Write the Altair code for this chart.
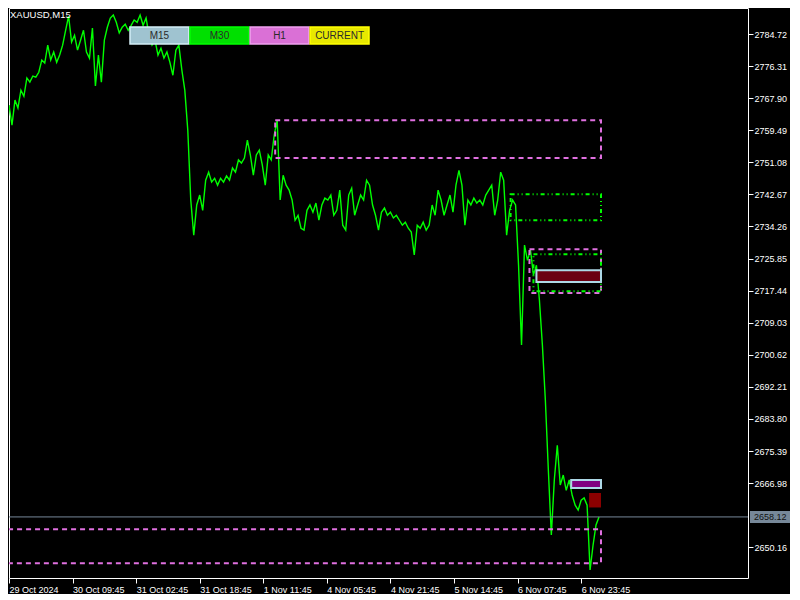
import altair as alt
import pandas as pd

# ---- data ----
closes = [
    2766.1, 2760.8, 2767.4, 2765.3, 2770.0, 2768.4, 2773.2, 2772.1, 2773.7, 2773.4,
    2774.7, 2777.9, 2777.1, 2781.8, 2777.9, 2780.0, 2777.3, 2779.2, 2781.8, 2785.7,
    2789.4, 2782.6, 2784.4, 2780.5, 2783.1, 2785.7, 2780.0, 2778.4, 2786.3, 2771.1,
    2779.2, 2772.1, 2783.1, 2786.5, 2788.9, 2789.7, 2787.8, 2785.0, 2786.5, 2787.3,
    2785.7, 2787.0, 2788.4, 2787.8, 2789.7, 2787.0, 2788.9, 2784.4, 2781.8, 2783.1,
    2779.2, 2781.0, 2778.4, 2780.0, 2777.3, 2773.9, 2780.5, 2781.8, 2775.3, 2770.0,
    2759.5, 2741.2, 2732.0, 2739.9, 2742.5, 2738.5, 2746.4, 2748.5, 2745.9, 2746.9,
    2745.1, 2746.9, 2745.9, 2747.5, 2746.4, 2749.6, 2748.5, 2751.7, 2750.9, 2752.2,
    2756.9, 2753.0, 2747.7, 2753.0, 2754.3, 2750.4, 2745.1, 2753.0, 2751.7, 2758.2,
    2762.1, 2741.2, 2747.7, 2745.1, 2743.8, 2741.2, 2735.9, 2737.2, 2733.8, 2733.3,
    2738.5, 2739.9, 2738.0, 2740.4, 2735.9, 2739.9, 2741.7, 2741.2, 2742.5, 2737.2,
    2738.5, 2743.8, 2734.6, 2733.3, 2742.5, 2744.3, 2737.2, 2739.9, 2742.5, 2741.2,
    2746.4, 2745.1, 2739.9, 2737.2, 2733.3, 2738.0, 2739.1, 2737.2, 2738.0, 2736.5,
    2737.2, 2735.9, 2734.6, 2735.4, 2733.8, 2732.8, 2726.8, 2734.6, 2733.8, 2735.4,
    2733.3, 2734.6, 2739.9, 2737.2, 2743.8, 2741.2, 2737.2, 2739.9, 2742.5, 2738.0,
    2745.1, 2749.0, 2745.1, 2734.6, 2741.2, 2739.9, 2741.7, 2740.4, 2741.2, 2739.9,
    2742.5, 2743.8, 2745.1, 2737.2, 2741.2, 2748.5, 2746.4, 2732.0, 2738.5, 2741.2,
    2739.9, 2724.1, 2703.2, 2729.4, 2725.4, 2728.1, 2721.5, 2724.1, 2715.0, 2703.2,
    2688.7, 2670.4, 2653.4, 2667.8, 2676.9, 2666.5, 2669.1, 2665.1, 2667.8, 2663.8,
    2661.2, 2659.9, 2662.5, 2663.1, 2661.2, 2644.2, 2650.7, 2656.0, 2658.1,
]
bars = list(range(0, 3 * len(closes), 3))

current_price = [2658.12]

y_ticks = [2784.72, 2776.31, 2767.90, 2759.49, 2751.08, 2742.67, 2734.26, 2725.85,
           2717.44, 2709.03, 2700.62, 2692.21, 2683.80, 2675.39, 2666.98, 2650.16]
x_tick_bars = [0, 64, 128, 192, 256, 320, 384, 448, 512, 576]
x_tick_labels = ["29 Oct 2024", "30 Oct 09:45", "31 Oct 02:45", "31 Oct 18:45",
                 "1 Nov 11:45", "4 Nov 05:45", "4 Nov 21:45", "5 Nov 14:45",
                 "6 Nov 07:45", "6 Nov 23:45"]

# zones (bar index start/end, price top/bottom)
h1_x0 = [268, 524, -10]
h1_x1 = [596, 596, 596]
h1_top = [2762.1, 2728.3, 2654.9]
h1_bot = [2752.2, 2716.8, 2646.0]

m30_x0 = [505, 528]
m30_x1 = [596, 596]
m30_top = [2742.7, 2727.0]
m30_bot = [2735.9, 2717.3]

box_names = ["maroon", "purple"]
box_x0 = [531, 566]
box_x1 = [596, 596]
box_top = [2722.8, 2667.8]
box_bot = [2719.7, 2665.7]

cur_x0 = [584]
cur_x1 = [596]
cur_top = [2664.4]
cur_bot = [2660.6]

buttons = ["M15", "M30", "H1", "CURRENT"]
button_fill = ["#9fc3d0", "#00e000", "#da70d6", "#e8e800"]
button_edge = ["#d4eef6", "#00ff00", "#f0a0ee", "#ffff00"]

# ---- tables ----
line_df = pd.DataFrame({"bar": bars, "price": closes})
h1_df = pd.DataFrame({"x0": h1_x0, "x1": h1_x1, "top": h1_top, "bot": h1_bot})
m30_df = pd.DataFrame({"x0": m30_x0, "x1": m30_x1, "top": m30_top, "bot": m30_bot})
box_df = pd.DataFrame({"name": box_names, "x0": box_x0, "x1": box_x1, "top": box_top, "bot": box_bot})
cur_df = pd.DataFrame({"x0": cur_x0, "x1": cur_x1, "top": cur_top, "bot": cur_bot})
price_df = pd.DataFrame({"price": current_price})
btn_df = pd.DataFrame({"label": buttons})

FONT = "Liberation Sans"
xs = alt.Scale(domain=[0, 744], nice=False, zero=False)
ys = alt.Scale(domain=[2642.11, 2791.54], nice=False, zero=False)

label_arr = "[" + ",".join("'" + s + "'" for s in x_tick_labels) + "]"

x_axis = alt.Axis(values=x_tick_bars, labelExpr=label_arr + "[round(datum.value/64)]",
                  title=None, grid=False, domain=False, tickColor="#ffffff", tickSize=5,
                  labelColor="#ffffff", labelFont=FONT, labelFontSize=9, labelAlign="left",
                  labelPadding=2, labelOverlap=False, labelFlush=False, labelBound=False)
y_axis = alt.Axis(values=y_ticks, format=".2f", orient="right", title=None, grid=False,
                  domain=False, tickColor="#ffffff", tickSize=5, labelColor="#ffffff",
                  labelFont=FONT, labelFontSize=9, labelPadding=1, labelOverlap=False,
                  labelFlush=False, labelBound=False)

X = lambda f: alt.X(f, scale=xs, axis=x_axis)
Y = lambda f: alt.Y(f, scale=ys, axis=y_axis)

line = alt.Chart(line_df).mark_line(color="#00ff00", strokeWidth=1.4, clip=True).encode(
    x=X("bar:Q"), y=Y("price:Q"),
)

rule = alt.Chart(price_df).mark_rule(color="#778899", strokeWidth=1).encode(
    y=Y("price:Q"), x=alt.value(0), x2=alt.value(739),
)

def zone(df, **mark):
    return alt.Chart(df).mark_rect(clip=True, **mark).encode(
        x=X("x0:Q"), x2="x1:Q", y=Y("top:Q"), y2="bot:Q",
    )

h1_layer = zone(h1_df, fill=None, fillOpacity=0, stroke="#e070e0", strokeWidth=2,
                strokeDash=[5, 4])
m30_layer = zone(m30_df, fill=None, fillOpacity=0, stroke="#00ff00", strokeWidth=2,
                 strokeDash=[4, 3, 1, 3, 1, 3])
box_layer = alt.Chart(box_df).mark_rect(clip=True, stroke="#add8e6", strokeWidth=2).encode(
    x=X("x0:Q"), x2="x1:Q", y=Y("top:Q"), y2="bot:Q",
    fill=alt.Fill("name:N", scale=alt.Scale(domain=box_names, range=["#6b0012", "#800080"]),
                  legend=None),
)
cur_layer = zone(cur_df, fill="#8b0000")

price_box = alt.Chart(price_df).mark_rect(fill="#778899").encode(
    y=Y("p1:Q"), y2="p2:Q",
    x=alt.value(741), x2=alt.value(781),
).transform_calculate(p1="datum.price + 1.57", p2="datum.price - 1.57")
price_text = alt.Chart(price_df).mark_text(
    align="left", baseline="middle", font=FONT, fontSize=9, color="#111111"
).encode(
    y=Y("price:Q"), x=alt.value(745),
    text=alt.Text("price:Q", format=".2f"),
)

title_txt = alt.Chart(pd.DataFrame({"t": ["XAUUSD,M15"]})).mark_text(
    align="left", baseline="top", font=FONT, fontSize=9.5, color="#ffffff"
).encode(x=alt.value(1), y=alt.value(2), text="t:N")

bscale = alt.Scale(domain=buttons, range=[121, 360], paddingInner=0.02, paddingOuter=0)
btn_rect = alt.Chart(btn_df).mark_rect(strokeWidth=1.5).encode(
    x=alt.X("label:N", scale=bscale, axis=None), y=alt.value(19), y2=alt.value(36),
    fill=alt.Fill("label:N", scale=alt.Scale(domain=buttons, range=button_fill), legend=None),
    stroke=alt.Stroke("label:N", scale=alt.Scale(domain=buttons, range=button_edge), legend=None),
)
btn_text = alt.Chart(btn_df).mark_text(
    align="center", baseline="middle", font=FONT, fontSize=10, color="#2a2a2a"
).encode(x=alt.X("label:N", scale=bscale, axis=None, bandPosition=0.5),
         y=alt.value(28), text="label:N")
btns = alt.layer(btn_rect, btn_text)

main = alt.layer(line, rule, h1_layer, m30_layer, box_layer, cur_layer,
                 price_box, price_text, title_txt)

chart = alt.layer(main, btns).resolve_scale(x="independent", fill="independent").properties(
    width=739, height=570, background="#000000",
    padding={"left": 0, "top": 0, "right": 0, "bottom": 0},
).configure_view(stroke="#ffffff", strokeWidth=1)

chart.save("out.html", embed_options={"renderer": "svg", "actions": False})
